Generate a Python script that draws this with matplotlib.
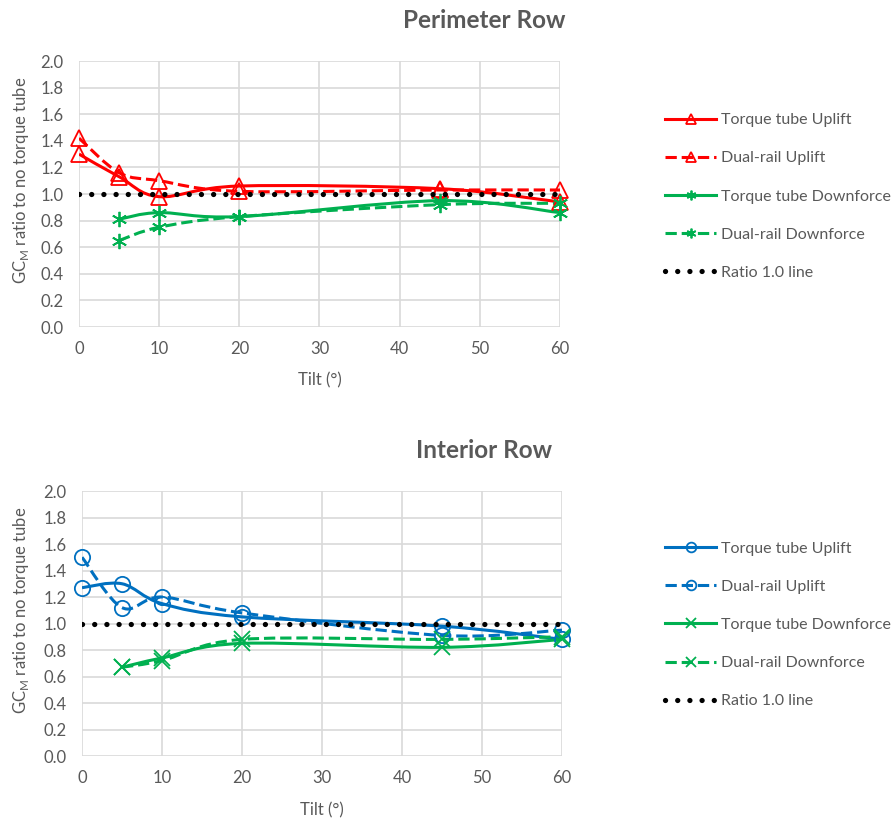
import numpy as np
import matplotlib
matplotlib.use("Agg")
import matplotlib.pyplot as plt
from matplotlib.path import Path
from matplotlib.patches import PathPatch
from matplotlib.lines import Line2D

plt.rcParams['font.family'] = ['Lato', 'DejaVu Sans']

# perimeter row
tilt_up = [0, 5, 10, 20, 45, 60]
tilt_dn = [5, 10, 20, 45, 60]
per_tt_up = [1.30, 1.13, 0.98, 1.06, 1.04, 0.94]
per_dr_up = [1.42, 1.16, 1.10, 1.02, 1.03, 1.03]
per_tt_dn = [0.81, 0.86, 0.83, 0.95, 0.86]
per_dr_dn = [0.65, 0.75, 0.83, 0.92, 0.93]

# interior row
int_tt_up = [1.27, 1.30, 1.15, 1.05, 0.98, 0.88]
int_dr_up = [1.50, 1.12, 1.20, 1.08, 0.91, 0.95]
int_tt_dn = [0.67, 0.74, 0.85, 0.82, 0.88]
int_dr_dn = [0.67, 0.72, 0.88, 0.88, 0.90]

ratio_x = [0, 60]
ratio_y = [1.0, 1.0]

labels = ["Torque tube Uplift", "Dual-rail Uplift", "Torque tube Downforce",
          "Dual-rail Downforce", "Ratio 1.0 line"]

RED = "#FF0000"
GREEN = "#00B050"
BLUE = "#0070C0"
GREY = "#595959"
GRID = "#D9D9D9"
DOTS = (0, (0.01, 2.3))


def smooth(ax, x, y, color, ls):
    # excel-like smoothed line: cubic bezier between the points
    x = np.asarray(x, float); y = np.asarray(y, float)
    n = len(x)
    verts = [(x[0], y[0])]
    codes = [Path.MOVETO]
    for i in range(n - 1):
        p0 = i - 1 if i > 0 else i
        p3 = i + 2 if i + 2 < n else i + 1
        c1 = (x[i] + (x[i + 1] - x[p0]) / 6, y[i] + (y[i + 1] - y[p0]) / 6)
        c2 = (x[i + 1] - (x[p3] - x[i]) / 6, y[i + 1] - (y[p3] - y[i]) / 6)
        verts += [c1, c2, (x[i + 1], y[i + 1])]
        codes += [Path.CURVE4] * 3
    patch = PathPatch(Path(verts, codes), fill=False, edgecolor=color,
                      lw=2.2, linestyle=ls, zorder=3)
    ax.add_patch(patch)


def panel(ax, series, title, title_y, ylab_x, ylab_y, xlab_y, leg_y):
    for x, y, color, ls, mk in series:
        smooth(ax, x, y, color, ls)
        ax.plot(x, y, linestyle='none', marker=mk, ms=11, mew=1.3,
                mec=color, mfc='none', zorder=4, clip_on=False)
    ax.plot(ratio_x, ratio_y, color='black', lw=3.8, linestyle=DOTS,
            dash_capstyle='round', zorder=5)
    ax.set_xlim(0, 60)
    ax.set_ylim(0, 2.0)
    ax.set_xticks(range(0, 61, 10))
    ax.set_yticks(np.arange(0, 2.01, 0.2))
    ax.yaxis.set_major_formatter(matplotlib.ticker.FormatStrFormatter('%.1f'))
    ax.grid(True, color=GRID, lw=1.2)
    ax.set_axisbelow(True)
    for s in ax.spines.values():
        s.set_visible(False)
    ax.tick_params(length=0, labelsize=12, colors=GREY)
    ax.tick_params(axis='y', pad=11)
    ax.tick_params(axis='x', pad=10)
    ax.set_xlabel("Tilt (°)", fontsize=12, color=GREY)
    ax.set_ylabel("GC$_\\mathregular{M}$ ratio to no torque tube", fontsize=12,
                  color=GREY)
    ax.xaxis.set_label_coords(0.5, xlab_y)
    ax.yaxis.set_label_coords(ylab_x, ylab_y)
    fig.text(484 / 895, title_y, title, ha='center', va='center',
             fontsize=17.5, fontweight='bold', color=GREY)

    handles = [Line2D([], [], color=c, ls=ls, lw=2.2, marker=mk, ms=7,
                      mfc='none', mec=c, mew=1.3) for _, _, c, ls, mk in series]
    handles.append(Line2D([], [], color='black', lw=3.8, ls=DOTS,
                          dash_capstyle='round'))
    leg = fig.legend(handles, labels, loc='center left',
                     bbox_to_anchor=(665 / 895, leg_y), frameon=False,
                     fontsize=11.5, labelspacing=1.5, handlelength=3.2,
                     handletextpad=0.3, borderpad=0, borderaxespad=0)
    for t in leg.get_texts():
        t.set_color(GREY)


fig = plt.figure(figsize=(8.95, 8.21), dpi=100)
ax1 = fig.add_axes([79 / 895, 1 - 327 / 821, 481 / 895, 266 / 821])
ax2 = fig.add_axes([82 / 895, 1 - 756 / 821, 480 / 895, 265 / 821])

panel(ax1, [
    (tilt_up, per_tt_up, RED, '-', '^'),
    (tilt_up, per_dr_up, RED, '--', '^'),
    (tilt_dn, per_tt_dn, GREEN, '-', (6, 2, 0)),
    (tilt_dn, per_dr_dn, GREEN, '--', (6, 2, 0)),
], "Perimeter Row", 1 - 20 / 821, -0.10, 0.553, -0.17, 1 - 196.5 / 821)

panel(ax2, [
    (tilt_up, int_tt_up, BLUE, '-', 'o'),
    (tilt_up, int_dr_up, BLUE, '--', 'o'),
    (tilt_dn, int_tt_dn, GREEN, '-', 'x'),
    (tilt_dn, int_dr_dn, GREEN, '--', 'x'),
], "Interior Row", 1 - 450 / 821, -0.106, 0.551, -0.174, 1 - 625 / 821)

fig.savefig("out.png", dpi=100)
